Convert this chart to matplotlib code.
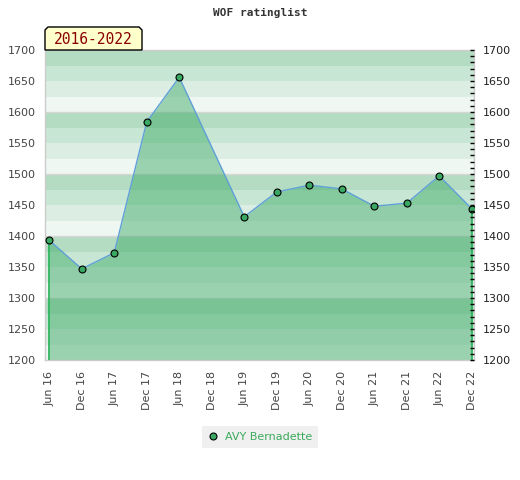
import matplotlib

matplotlib.use("Agg")
import matplotlib.pyplot as plt
from matplotlib.patches import Polygon
from matplotlib.ticker import MultipleLocator

OUTPUT_PATH = "out.png"
FIG_W, FIG_H = 520, 480

# tick categories along the time axis (half-yearly)
periods = [
    "Jun 16", "Dec 16", "Jun 17", "Dec 17", "Jun 18", "Dec 18", "Jun 19",
    "Dec 19", "Jun 20", "Dec 20", "Jun 21", "Dec 21", "Jun 22", "Dec 22",
]
# rating list entries (no entry for Dec 18)
rating_periods = [
    "Jun 16", "Dec 16", "Jun 17", "Dec 17", "Jun 18", "Jun 19", "Dec 19",
    "Jun 20", "Dec 20", "Jun 21", "Dec 21", "Jun 22", "Dec 22",
]
ratings = [1393, 1347, 1373, 1584, 1656, 1431, 1471, 1482, 1476, 1448, 1453, 1497, 1444]

player = "AVY Bernadette"
title = "WOF ratinglist"
range_label = "2016-2022"

Y_MIN, Y_MAX = 1200, 1700
BAND = 25
# band colours inside each 100-block, bottom to top
band_colors = ["#eff7f2", "#dcede3", "#c8e6d4", "#b3dcc2"]
FILL = "#34a660"
LINE = "#5fa0d8"
MARKER = "#3aa862"
TEXT_GREY = "#444444"


def px(x, y):
    return x / FIG_W, 1 - y / FIG_H


fig = plt.figure(figsize=(FIG_W / 100, FIG_H / 100), dpi=100)
fig.patch.set_facecolor("white")

left, top = px(45, 50)
right, bottom = px(474, 360)
ax = fig.add_axes([left, bottom, right - left, top - bottom])

x = [periods.index(p) for p in rating_periods]

# striped background
y = Y_MIN
i = 0
while y < Y_MAX:
    ax.axhspan(y, y + BAND, color=band_colors[i % 4], lw=0, zorder=0)
    y += BAND
    i += 1
for g in range(Y_MIN + 100, Y_MAX, 100):
    ax.axhline(g, color="#d6d6d6", lw=1, zorder=1)

ax.fill_between(x, ratings, Y_MIN, color=FILL, alpha=0.45, lw=0, zorder=2)
ax.vlines([x[0], x[-1]], Y_MIN, [ratings[0], ratings[-1]], color="#22b055", lw=1.2, zorder=3)
ax.plot(x, ratings, color=LINE, lw=1, zorder=4)
ax.plot(
    x, ratings, ls="none", marker="o", ms=5, mfc=MARKER, mec="black", mew=0.8,
    zorder=5, label=player,
)

ax.set_xlim(-0.13, len(periods) - 1 + 0.07)
ax.set_ylim(Y_MIN, Y_MAX)
ax.set_xticks(range(len(periods)))
ax.set_xticklabels(periods, rotation=90, fontsize=8, color=TEXT_GREY)
ax.yaxis.set_major_locator(MultipleLocator(50))
ax.tick_params(axis="y", length=0, pad=6.5, labelsize=8, labelcolor=TEXT_GREY)
ax.tick_params(axis="x", length=0, pad=8)
for s in ax.spines.values():
    s.set_color("#cccccc")
    s.set_linewidth(1)

ax2 = ax.twinx()
ax2.set_ylim(Y_MIN, Y_MAX)
ax2.yaxis.set_major_locator(MultipleLocator(50))
ax2.yaxis.set_minor_locator(MultipleLocator(10))
ax2.tick_params(axis="y", which="major", direction="in", length=3, width=1,
                color="black", pad=6, labelsize=8, labelcolor="#222222")
ax2.tick_params(axis="y", which="minor", direction="in", length=3, width=1, color="black")
for s in ax2.spines.values():
    s.set_visible(False)

fig.text(0.5, 1 - 13 / FIG_H, title, ha="center", va="center",
         family="DejaVu Sans Mono", weight="bold", fontsize=8, color="#333333")

# range label tab with clipped top corners
x0, x1, y0, y1, c = 45, 142, 27, 50, 3
tab = Polygon(
    [px(x0, y1), px(x0, y0 + c), px(x0 + c, y0), px(x1 - c, y0), px(x1, y0 + c), px(x1, y1)],
    closed=True, transform=fig.transFigure, facecolor="#ffffcc", edgecolor="black",
    lw=1, zorder=10,
)
fig.patches.append(tab)
tx, ty = px((x0 + x1) / 2, (y0 + y1) / 2 + 1)
fig.text(tx, ty, range_label, ha="center", va="center", family="DejaVu Sans Mono",
         fontsize=10.5, color="#8b0000", zorder=11)

lx, ly = px(260, 437)
leg = ax.legend(
    loc="center", bbox_to_anchor=(lx, ly), bbox_transform=fig.transFigure,
    frameon=True, fancybox=False, facecolor="#f0f0f0", edgecolor="none", framealpha=1,
    fontsize=8, handlelength=1, handletextpad=0.6, borderpad=0.5,
)
for t in leg.get_texts():
    t.set_color("#3aaa5a")

fig.savefig(OUTPUT_PATH, dpi=100)
plt.close(fig)
